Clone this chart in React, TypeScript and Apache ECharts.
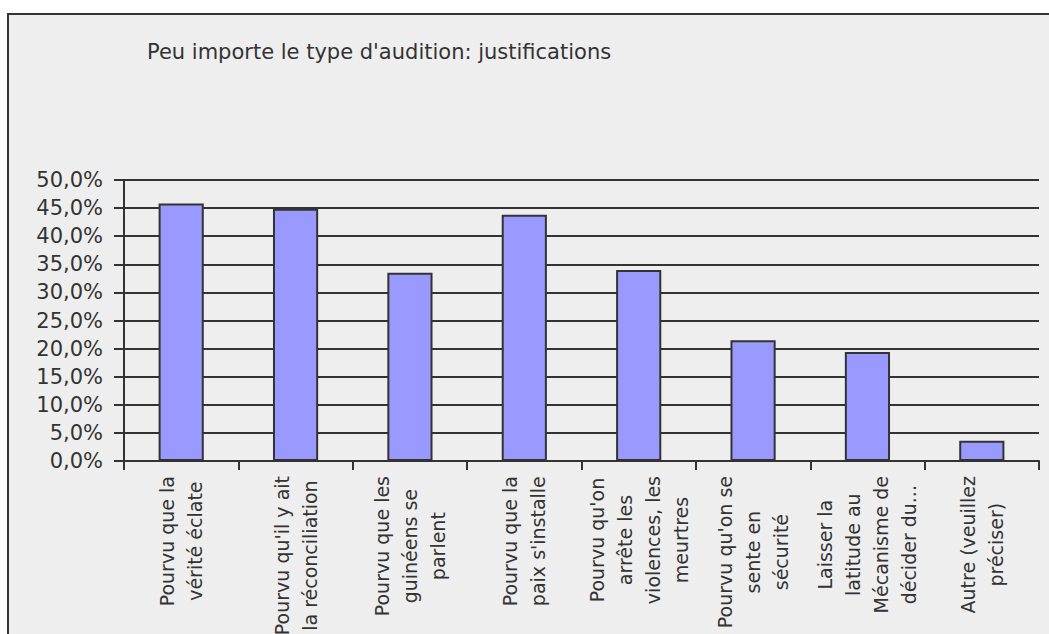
import React, { useEffect, useRef } from "react";
import * as echarts from "echarts";

// Reasons given (multi-line category labels)
const categories: string[] = [
  "Pourvu que la\nvérité éclate",
  "Pourvu qu'il y ait\nla réconciliation",
  "Pourvu que les\nguinéens se\nparlent",
  "Pourvu que la\npaix s'installe",
  "Pourvu qu'on\narrête les\nviolences, les\nmeurtres",
  "Pourvu qu'on se\nsente en\nsécurité",
  "Laisser la\nlatitude au\nMécanisme de\ndécider du...",
  "Autre (veuillez\npréciser)",
];

// Share of respondents, in percent
const shares: number[] = [45.8, 44.9, 33.5, 43.8, 34.0, 21.5, 19.4, 3.6];

const yMin = 0;
const yMax = 50;
const yStep = 5;

const titleText = "Peu importe le type d'audition: justifications";

const FONT = "'DejaVu Sans', sans-serif";
const INK = "#333333";

const formatPct = (v: number) => v.toFixed(1).replace(".", ",") + "%";

// Wrap every line in a centred rich token so wrapped lines are centred on each other
const centreLines = (s: string) =>
  s
    .split("\n")
    .map((l) => "{c|" + l + "}")
    .join("\n");

export default function App() {
  const ref = useRef<HTMLDivElement>(null);

  useEffect(() => {
    if (!ref.current) return;
    const chart = echarts.init(ref.current, undefined, { renderer: "svg" });
    chart.setOption({
      animation: false,
      backgroundColor: "#ffffff",
      graphic: [
        {
          type: "rect",
          silent: true,
          z: -10,
          shape: { x: 8, y: 14, width: 1200, height: 800 },
          style: { fill: "#eeeeee", stroke: INK, lineWidth: 2 },
        },
      ],
      title: {
        text: titleText,
        left: 147,
        top: 41,
        padding: 0,
        textStyle: {
          fontFamily: FONT,
          fontSize: 21,
          fontWeight: "normal",
          color: INK,
        },
      },
      grid: {
        left: 124,
        right: 10,
        top: 180,
        bottom: 173,
        containLabel: false,
        outerBoundsMode: "none",
      },
      xAxis: {
        type: "category",
        data: categories,
        boundaryGap: true,
        axisLine: { show: true, lineStyle: { color: INK, width: 2 } },
        axisTick: {
          show: true,
          inside: false,
          length: 9,
          alignWithLabel: false,
          lineStyle: { color: INK, width: 2 },
        },
        axisLabel: {
          interval: 0,
          rotate: 90,
          margin: 15,
          fontFamily: FONT,
          fontSize: 19,
          lineHeight: 28,
          color: INK,
          formatter: (v: string) => centreLines(v),
          rich: {
            c: {
              align: "center",
              fontFamily: FONT,
              fontSize: 19,
              lineHeight: 28,
              color: INK,
            },
          },
        },
        splitLine: { show: false },
      },
      yAxis: {
        type: "value",
        min: yMin,
        max: yMax,
        interval: yStep,
        axisLine: { show: true, lineStyle: { color: INK, width: 2 } },
        axisTick: {
          show: true,
          inside: false,
          length: 10,
          lineStyle: { color: INK, width: 2 },
        },
        axisLabel: {
          margin: 21,
          fontFamily: FONT,
          fontSize: 21,
          color: INK,
          formatter: (v: number) => formatPct(v),
        },
        splitLine: { show: true, lineStyle: { color: INK, width: 2 } },
      },
      series: [
        {
          type: "bar",
          data: shares,
          barWidth: "39.5%",
          itemStyle: {
            color: "#9999ff",
            borderColor: INK,
            borderWidth: 2,
          },
        },
      ],
    });
    return () => chart.dispose();
  }, []);

  return (
    <div
      ref={ref}
      style={{ position: "absolute", left: 0, top: 0, width: 1049, height: 634 }}
    />
  );
}
